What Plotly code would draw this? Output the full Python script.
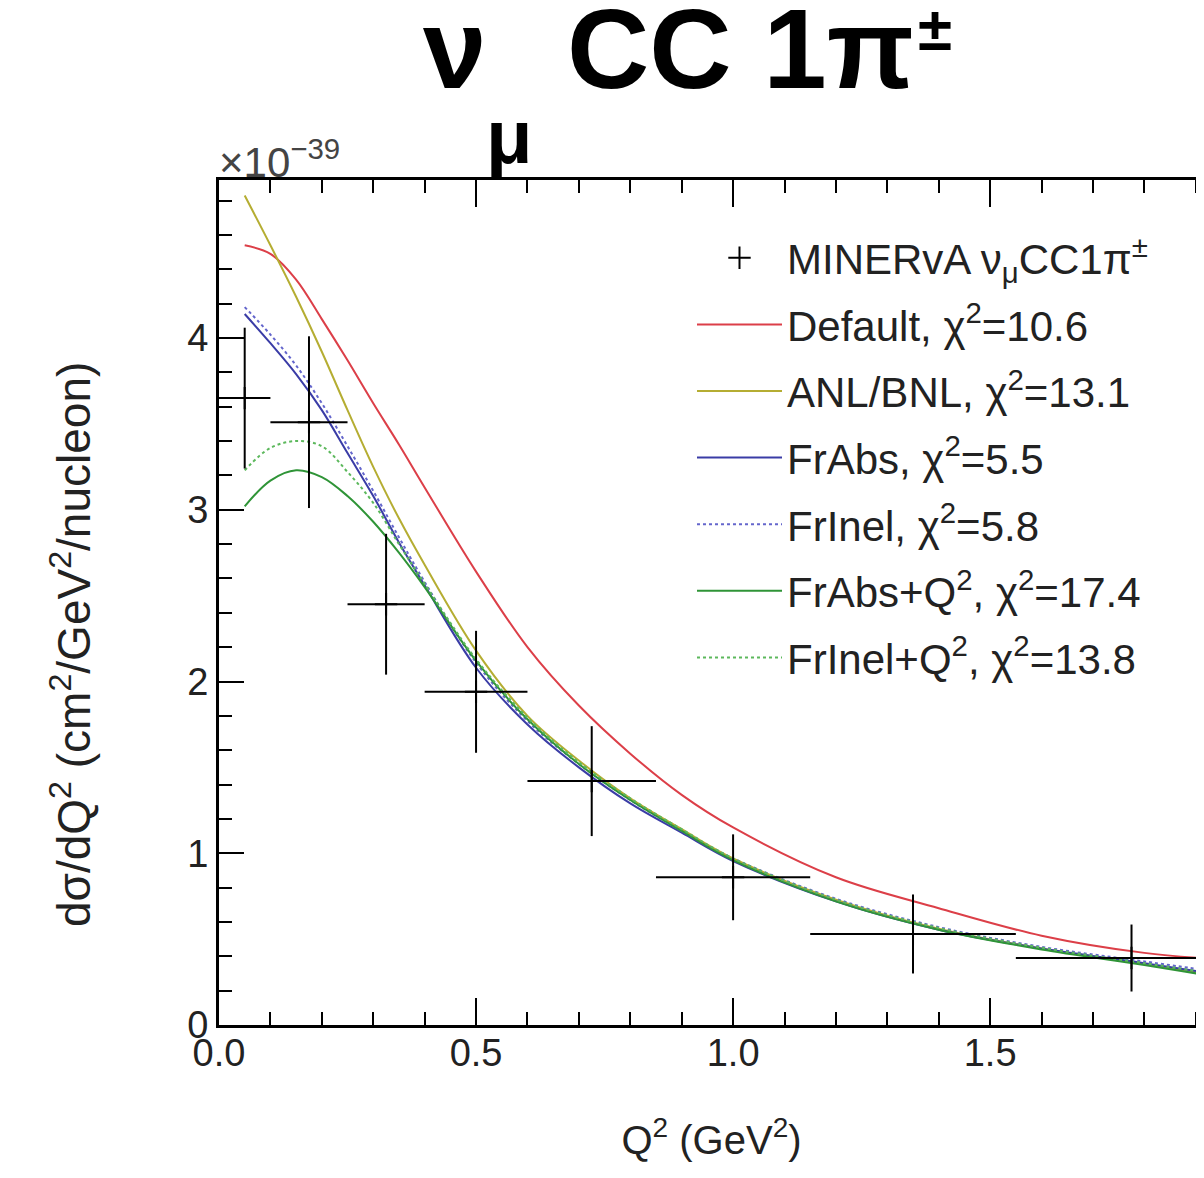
import plotly.graph_objects as go

# MINERvA data points (x-section in units of 1e-39 cm^2/GeV^2/nucleon)
q2_bin_center = [0.05, 0.175, 0.325, 0.5, 0.725, 1.0, 1.35, 1.775]
q2_bin_halfwidth = [0.05, 0.075, 0.075, 0.1, 0.125, 0.15, 0.2, 0.225]
xsec_data = [3.65, 3.51, 2.45, 1.94, 1.42, 0.86, 0.53, 0.39]
xsec_err = [0.41, 0.50, 0.41, 0.355, 0.32, 0.25, 0.23, 0.195]

# model predictions
q2_grid = [0.05, 0.1, 0.15, 0.2, 0.25, 0.3, 0.35, 0.4, 0.5, 0.6,
           0.7, 0.8, 0.9, 1.0, 1.2, 1.4, 1.6, 1.8, 2.0]
default = [4.54, 4.49, 4.34, 4.11, 3.87, 3.62, 3.38, 3.13, 2.64, 2.20,
           1.86, 1.58, 1.34, 1.15, 0.86, 0.68, 0.52, 0.42, 0.37]
anl_bnl = [4.83, 4.54, 4.24, 3.92, 3.58, 3.25, 2.95, 2.68, 2.18, 1.80,
           1.54, 1.32, 1.14, 0.97, 0.73, 0.56, 0.445, 0.355, 0.26]
fr_abs = [4.14, 3.97, 3.79, 3.58, 3.33, 3.08, 2.81, 2.56, 2.08, 1.75,
          1.50, 1.29, 1.12, 0.955, 0.72, 0.555, 0.445, 0.36, 0.27]
fr_inel = [4.18, 4.02, 3.84, 3.62, 3.37, 3.11, 2.84, 2.58, 2.11, 1.77,
           1.52, 1.31, 1.13, 0.97, 0.735, 0.57, 0.455, 0.37, 0.285]
fr_abs_q2 = [3.02, 3.17, 3.23, 3.19, 3.08, 2.93, 2.75, 2.55, 2.12, 1.78,
             1.52, 1.31, 1.13, 0.96, 0.72, 0.555, 0.44, 0.35, 0.25]
fr_inel_q2 = [3.23, 3.36, 3.40, 3.37, 3.22, 3.04, 2.80, 2.57, 2.13, 1.79,
              1.53, 1.32, 1.14, 0.97, 0.73, 0.565, 0.45, 0.36, 0.27]

MODELS = [
    ("Default, χ<sup>2</sup>=10.6", default, "#dc3f48", "solid"),
    ("ANL/BNL, χ<sup>2</sup>=13.1", anl_bnl, "#b5ad32", "solid"),
    ("FrAbs, χ<sup>2</sup>=5.5", fr_abs, "#3a3ca6", "solid"),
    ("FrInel, χ<sup>2</sup>=5.8", fr_inel, "#6466cc", "dot"),
    ("FrAbs+Q<sup>2</sup>, χ<sup>2</sup>=17.4", fr_abs_q2, "#2f9437", "solid"),
    ("FrInel+Q<sup>2</sup>, χ<sup>2</sup>=13.8", fr_inel_q2, "#5cb85c", "dot"),
]

FONT = "Liberation Sans"
TEXT = "#222222"

fig = go.Figure()

for name, values, color, dash in MODELS:
    fig.add_trace(
        go.Scatter(
            x=q2_grid,
            y=values,
            mode="lines",
            name=name,
            legendgroup=name,
            line=dict(color=color, width=2, dash=dash, shape="spline"),
        )
    )

fig.add_trace(
    go.Scatter(
        x=q2_bin_center,
        y=xsec_data,
        mode="markers",
        name="MINERvA ν<sub>μ</sub>CC1π<sup>±</sup>",
        legendgroup="data",
        legendrank=1,
        marker=dict(symbol="cross-thin-open", size=16,
                    color="black", line=dict(color="black", width=2)),
        error_x=dict(type="data", array=q2_bin_halfwidth, width=0,
                     thickness=2, color="black"),
        error_y=dict(type="data", array=xsec_err, width=0,
                     thickness=2, color="black"),
    )
)

# title pieces: the subscript and the charge sign sit lower than plotly's
# default sub/sup offsets, so they are drawn as their own texts
fig.add_annotation(
    text="<b>μ</b>",
    xref="paper", yref="paper", x=0.2954, y=1.0509,
    xanchor="center", yanchor="middle", showarrow=False,
    font=dict(family=FONT, size=76, color="black"),
)
fig.add_annotation(
    text="<b>±</b>",
    xref="paper", yref="paper", x=0.727, y=1.1787,
    xanchor="center", yanchor="middle", showarrow=False,
    font=dict(family=FONT, size=62, color="black"),
)

fig.add_annotation(
    text="×10<sup>−39</sup>",
    xref="paper", yref="paper", x=-0.002, y=0.99,
    xanchor="left", yanchor="bottom", showarrow=False,
    font=dict(family=FONT, size=42, color="#444444"),
)

fig.add_annotation(
    text="dσ/dQ<sup>2</sup> (cm<sup>2</sup>/GeV<sup>2</sup>/nucleon)",
    xref="paper", yref="paper", x=-0.151, y=0.45,
    xanchor="center", yanchor="middle",
    textangle=-90, showarrow=False,
    font=dict(family=FONT, size=46, color=TEXT),
)

# the page body adds 8 px around the figure, margins account for it
fig.update_layout(
    width=1196,
    height=1170,
    margin=dict(l=211, r=0, t=172, b=153),
    paper_bgcolor="white",
    plot_bgcolor="white",
    font=dict(family=FONT, color=TEXT),
    title=dict(
        text="<b>ν<sub><span style='color:rgba(0,0,0,0)'>μ</span></sub> CC 1π</b>",
        x=0.5523, xanchor="center",
        y=0.9996, yanchor="top", yref="container",
        font=dict(family=FONT, size=114, color="black"),
    ),
    xaxis=dict(
        range=[0, 1.916],
        automargin=False,
        showgrid=False, zeroline=False,
        showline=True, linecolor="black", linewidth=3, mirror="ticks",
        ticks="inside", ticklen=27, tickwidth=2, tickcolor="black",
        dtick=0.5, tick0=0, tickformat=".1f",
        minor=dict(ticks="inside", ticklen=13, tickwidth=2,
                   tickcolor="black", dtick=0.1),
        tickfont=dict(family=FONT, size=38, color=TEXT),
        ticklabelstandoff=-8,
        title=dict(text="Q<sup>2</sup> (GeV<sup>2</sup>)", standoff=54,
                   font=dict(family=FONT, size=40, color=TEXT)),
    ),
    yaxis=dict(
        range=[0, 4.92],
        automargin=False,
        showgrid=False, zeroline=False,
        showline=True, linecolor="black", linewidth=3,
        ticks="inside", ticklen=25, tickwidth=2, tickcolor="black",
        dtick=1, tick0=0,
        minor=dict(ticks="inside", ticklen=13, tickwidth=2,
                   tickcolor="black", dtick=0.2),
        tickfont=dict(family=FONT, size=38, color=TEXT),
    ),
    legend=dict(
        x=0.4802, xanchor="left",
        y=0.9479, yanchor="top",
        bgcolor="rgba(255,255,255,0)",
        font=dict(family=FONT, size=42, color=TEXT),
        itemwidth=85,
        tracegroupgap=9,
    ),
)

fig.write_html("out.html")
